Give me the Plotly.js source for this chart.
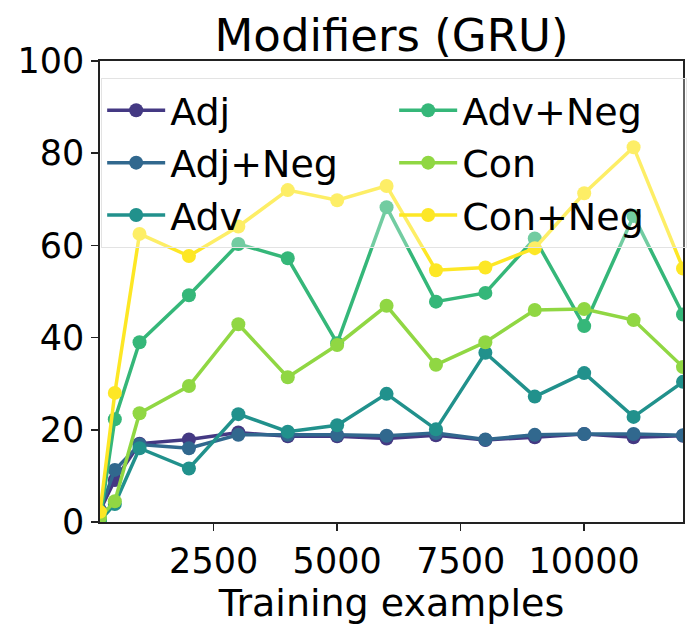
<!DOCTYPE html>
<html>
<head>
<meta charset="utf-8">
<script src="https://cdn.plot.ly/plotly-3.0.1.min.js"></script>
<style>html,body{margin:0;padding:0;background:#fff;}#chart{width:700px;height:633px;}</style>
</head>
<body>
<div id="chart"></div>
<script>
const trainingExamples = [200, 500, 1000, 2000, 3000, 4000, 5000, 6000, 7000, 8000, 9000, 10000, 11000, 12000];
const seriesNames = ["Adj", "Adj+Neg", "Adv", "Adv+Neg", "Con", "Con+Neg"];
const adj     = [2.5, 9.1, 17.0, 17.9, 19.4, 18.6, 18.6, 18.1, 18.8, 17.8, 18.4, 19.1, 18.4, 18.7];
const adjNeg  = [2.5, 11.3, 16.8, 16.0, 18.9, 18.9, 18.9, 18.7, 19.3, 17.9, 18.9, 19.1, 19.1, 18.8];
const adv     = [0.3, 3.9, 16.0, 11.6, 23.4, 19.6, 21.0, 27.8, 20.1, 36.7, 27.2, 32.3, 22.8, 30.4];
const advNeg  = [0.5, 22.3, 39.0, 49.2, 60.3, 57.2, 38.8, 68.3, 47.8, 49.7, 61.5, 42.5, 66.4, 45.0];
const con     = [1.0, 4.5, 23.6, 29.5, 42.9, 31.4, 38.4, 46.9, 34.1, 39.0, 46.0, 46.2, 43.8, 33.6];
const conNeg  = [2.2, 28.0, 62.5, 57.7, 64.1, 72.0, 69.8, 72.9, 54.6, 55.2, 59.4, 71.3, 81.3, 55.0];
const xTicks = [2500, 5000, 7500, 10000];
const yTicks = [0, 20, 40, 60, 80, 100];

const seriesValues = [adj, adjNeg, adv, advNeg, con, conNeg];
const colors = ["#443983", "#31688e", "#21918c", "#35b779", "#90d743", "#fde725"];
// legend filled column-wise (2 columns, 3 rows) like the reference
const legendRanks = [1, 3, 5, 2, 4, 6];

const FONT = "DejaVu Sans, Liberation Sans, sans-serif";

const traces = seriesNames.map((name, i) => ({
  type: "scatter",
  mode: "lines+markers",
  name: name,
  x: trainingExamples,
  y: seriesValues[i],
  line: {color: colors[i], width: 3.5},
  marker: {color: colors[i], size: 14},
  legendrank: legendRanks[i],
  cliponaxis: true
}));

const layout = {
  width: 700,
  height: 633,
  paper_bgcolor: "#ffffff",
  plot_bgcolor: "#ffffff",
  margin: {l: 100, r: 17, t: 61, b: 111},
  font: {family: FONT, size: 36, color: "#000"},
  title: {
    text: "Modifiers (GRU)",
    font: {family: FONT, size: 45, color: "#000"},
    x: 0.5, xref: "paper", xanchor: "center",
    y: 0.945, yref: "container", yanchor: "middle"
  },
  showlegend: true,
  legend: {
    orientation: "h",
    x: 0.002, xanchor: "left",
    y: 0.963, yanchor: "top",
    entrywidth: 219,
    entrywidthmode: "pixels",
    bgcolor: "rgba(255,255,255,0.3)",
    bordercolor: "#e3e3e3",
    borderwidth: 1,
    font: {family: FONT, size: 38, color: "#000"},
    itemwidth: 58,
    traceorder: "normal"
  },
  xaxis: {
    range: [200, 12000],
    tickvals: xTicks,
    ticktext: xTicks.map(String),
    ticks: "outside",
    ticklen: 7,
    tickwidth: 1.6,
    tickcolor: "#222",
    showline: true,
    linecolor: "#222",
    linewidth: 1.6,
    mirror: true,
    showgrid: false,
    zeroline: false,
    tickfont: {family: FONT, size: 35, color: "#000"},
    title: {text: "Training examples", font: {family: FONT, size: 38, color: "#000"}, standoff: 5}
  },
  yaxis: {
    range: [0, 100],
    tickvals: yTicks,
    ticktext: yTicks.map(String),
    ticks: "outside",
    ticklen: 7,
    tickwidth: 1.6,
    tickcolor: "#222",
    showline: true,
    linecolor: "#222",
    linewidth: 1.6,
    mirror: true,
    showgrid: false,
    zeroline: false,
    tickfont: {family: FONT, size: 35, color: "#000"}
  }
};

Plotly.newPlot("chart", traces, layout, {displayModeBar: false, staticPlot: true});
</script>
</body>
</html>
